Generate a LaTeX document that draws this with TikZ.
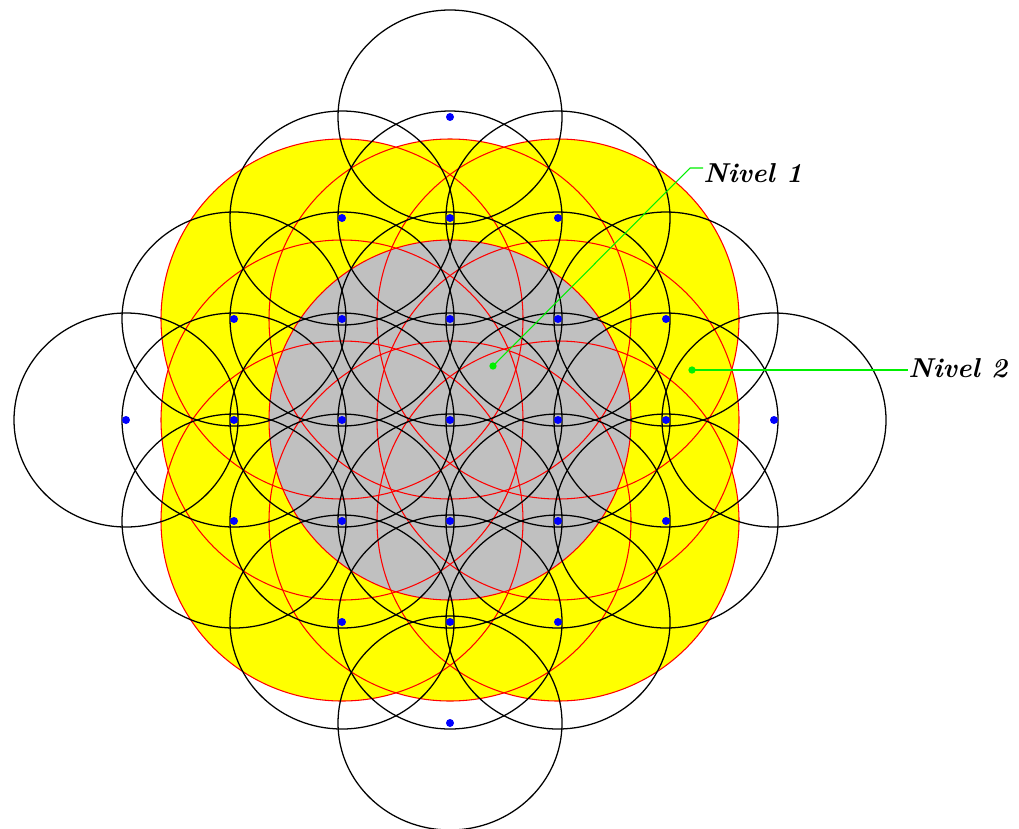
\documentclass[tikz,border=0pt]{standalone}
\definecolor{silver}{RGB}{192,192,192}
\definecolor{ylw}{RGB}{255,255,0}
\definecolor{lgreen}{RGB}{0,240,0}
\definecolor{dotblue}{RGB}{0,0,255}
\begin{document}
\begin{tikzpicture}[x=0.75pt,y=-0.75pt,
  zonefill/.style={fill=ylw},
  corefill/.style={fill=silver},
  zone/.style={draw=red, line width=0.8pt},
  cell/.style={draw=black, line width=0.95pt},
  site/.style={circle, fill=dotblue, inner sep=0pt, minimum size=6pt},
  gdot/.style={circle, fill=lgreen, inner sep=0pt, minimum size=5.5pt},
  leader/.style={draw=lgreen, line width=0.8pt},
  lbl/.style={inner sep=0pt, font=\fontsize{20.5}{25}\selectfont\bfseries\itshape}]
\useasboundingbox (0,0) rectangle (1019,828);
\fill[white] (0,0) rectangle (1019,828);
% level-2 zone (yellow) : union of 9 large circles
\foreach \i in {-1,0,1}{
  \foreach \j in {-1,0,1}{
    \fill[zonefill] (450+108*\i,420+101*\j) ellipse[x radius=181, y radius=180];
  }
}
% level-1 zone (grey)
\fill[corefill] (450,420) ellipse[x radius=181, y radius=180];
% red outlines
\foreach \i in {-1,0,1}{
  \foreach \j in {-1,0,1}{
    \draw[zone] (450+108*\i,420+101*\j) ellipse[x radius=181, y radius=180];
  }
}
% black cells
\foreach \i in {-3,...,3}{
  \foreach \j in {-3,...,3}{
    \pgfmathtruncatemacro\ss{abs(\i)+abs(\j)}
    \ifnum\ss<4
      \draw[cell] (450+108*\i,420+101*\j) ellipse[x radius=112, y radius=107];
    \fi
  }
}
% blue sites
\foreach \i in {-3,...,3}{
  \foreach \j in {-3,...,3}{
    \pgfmathtruncatemacro\ss{abs(\i)+abs(\j)}
    \ifnum\ss<4
      \node[site] (d\i\j) at (450+108*\i,420+101*\j) {};
    \fi
  }
}
% labels
\node[lbl, anchor=base west] (n1) at (703,182) {Nivel 1};
\node[lbl, anchor=base west] (n2) at (908,377) {Nivel 2};
\node[gdot] (g1) at (493,366) {};
\node[gdot] (g2) at (692,370) {};
\coordinate (k1) at (690,168);
\draw[leader] (g1.center) -- (k1) -- (k1 -| n1.west);
\draw[leader] (g2.center) -- (g2 -| n2.west);
\end{tikzpicture}
\end{document}
